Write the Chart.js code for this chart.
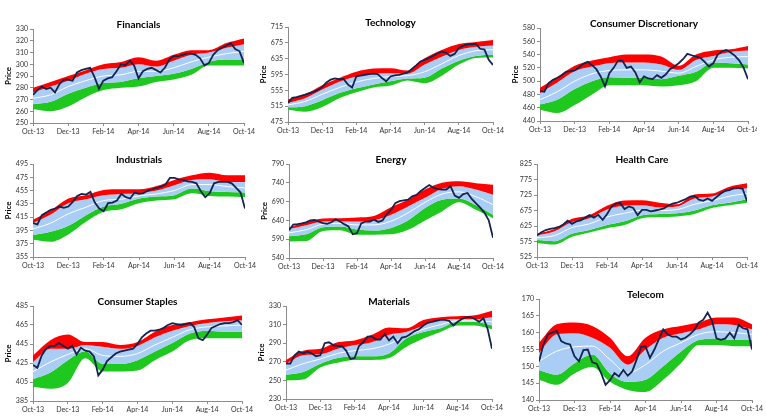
<!DOCTYPE html>
<html>
<head>
<meta charset="utf-8">
<script src="https://cdn.jsdelivr.net/npm/chart.js@4.4.1/dist/chart.umd.min.js"></script>
<style>
    html, body { margin: 0; padding: 0; background: #ffffff; }
    #wrap { position: relative; width: 766px; height: 420px; overflow: hidden; }
    .panel { position: absolute; }
</style>
</head>
<body>
<div id="wrap"></div>
<script>
// Axis labels and sample positions (months since Oct-13)
const xTickLabels = ['Oct-13', 'Dec-13', 'Feb-14', 'Apr-14', 'Jun-14', 'Aug-14', 'Oct-14'];
const bandMonths = [0, 1, 2, 3, 4, 5, 6, 7, 8, 9, 10, 11, 12];
const priceMonths = [0, 0.25, 0.5, 0.75, 1, 1.25, 1.5, 1.75, 2, 2.25, 2.5, 2.75, 3, 3.25, 3.5, 3.75,
    4, 4.25, 4.5, 4.75, 5, 5.25, 5.5, 5.75, 6, 6.25, 6.5, 6.75, 7, 7.25, 7.5, 7.75,
    8, 8.25, 8.5, 8.75, 9, 9.25, 9.5, 9.75, 10, 10.25, 10.5, 10.75, 11, 11.25, 11.5, 11.75, 12];

// Financials
const finPrice = [274, 278, 281, 279, 280, 276, 283, 287, 287, 286, 293, 295, 296, 297, 289, 279,
    286, 288, 289, 294, 300, 299, 303, 299, 288, 294, 296, 297, 295, 293, 297, 304,
    307, 307, 308, 309, 309, 308, 305, 299, 301, 308, 312, 314, 316, 318, 313, 311, 301];
const finRedTop = [280, 285, 290, 295, 300, 302, 306, 303, 308, 312, 312, 318, 322];
const finBlueTop = [276, 281, 286, 292, 296, 297, 300, 298, 303, 308, 310, 314, 317];
const finGreenTop = [266, 268, 275, 280, 284, 285, 288, 290, 292, 296, 302, 304, 304];
const finGreenBottom = [262, 260, 264, 272, 278, 280, 281, 285, 287, 291, 299, 299, 299];
const finMid = [271, 274, 281, 286, 290, 291, 294, 294, 297, 302, 306, 309, 311];

// Technology
const techPrice = [523, 536, 538, 541, 544, 548, 551, 556, 563, 575, 582, 585, 583, 584, 570, 562,
    590, 592, 594, 596, 597, 596, 586, 578, 590, 593, 594, 597, 600, 609, 618, 628,
    632, 637, 642, 648, 653, 650, 642, 647, 662, 668, 671, 672, 672, 660, 658, 632, 619];
const techRedTop = [532, 545, 568, 586, 602, 610, 611, 605, 636, 657, 672, 677, 682];
const techBlueTop = [523, 535, 557, 577, 590, 597, 598, 597, 620, 640, 657, 665, 668];
const techGreenTop = [512, 515, 530, 548, 560, 570, 578, 585, 587, 610, 630, 642, 645];
const techGreenBottom = [506, 501, 513, 535, 550, 562, 567, 580, 573, 592, 620, 637, 638];
const techMid = [518, 527, 545, 562, 576, 585, 590, 592, 602, 622, 643, 655, 658];

// Consumer Discretionary
const cdPrice = [485, 484, 497, 502, 505, 509, 514, 515, 516, 521, 526, 529, 524, 518, 507, 492,
    512, 520, 531, 531, 520, 522, 513, 498, 507, 504, 503, 509, 505, 510, 518, 522,
    527, 533, 541, 539, 537, 535, 529, 522, 527, 540, 545, 547, 543, 538, 531, 520, 503];
const cdRedTop = [490, 506, 523, 531, 536, 540, 540, 537, 523, 540, 546, 548, 553];
const cdBlueTop = [482, 498, 515, 522, 527, 528, 528, 525, 517, 532, 538, 544, 546];
const cdGreenTop = [465, 472, 488, 500, 506, 505, 505, 503, 508, 514, 528, 527, 525];
const cdGreenBottom = [457, 452, 464, 480, 494, 494, 494, 492, 494, 500, 520, 520, 519];
const cdMid = [472, 484, 500, 511, 516, 517, 517, 515, 512, 522, 532, 536, 537];

// Industrials
const indPrice = [406, 404, 418, 422, 426, 428, 431, 429, 431, 438, 447, 450, 449, 453, 437, 428,
    424, 436, 437, 440, 450, 445, 443, 452, 450, 451, 455, 457, 459, 461, 464, 474,
    474, 472, 471, 469, 468, 466, 454, 445, 451, 466, 468, 468, 468, 466, 459, 452, 428];
const indRedTop = [411, 425, 443, 448, 456, 457, 457, 462, 471, 478, 482, 478, 478];
const indBlueTop = [406, 419, 436, 442, 448, 450, 451, 455, 463, 471, 472, 468, 468];
const indGreenTop = [388, 393, 402, 418, 431, 435, 443, 446, 448, 458, 454, 453, 452];
const indGreenBottom = [381, 378, 389, 408, 423, 427, 436, 440, 442, 451, 447, 446, 445];
const indMid = [397, 406, 420, 430, 440, 442, 447, 450, 455, 464, 464, 461, 459];

// Energy
const enPrice = [614, 629, 630, 632, 635, 640, 641, 637, 633, 631, 635, 643, 637, 630, 624, 603,
    606, 632, 637, 637, 642, 636, 640, 657, 668, 686, 691, 693, 695, 704, 708, 718,
    726, 734, 727, 723, 722, 722, 731, 706, 700, 710, 713, 697, 685, 674, 660, 640, 594];
const enRedTop = [621, 635, 645, 646, 648, 652, 675, 695, 722, 740, 744, 739, 735];
const enBlueTop = [617, 627, 637, 638, 637, 640, 655, 677, 700, 724, 731, 722, 708];
const enGreenTop = [598, 603, 622, 624, 616, 613, 620, 640, 673, 695, 698, 680, 655];
const enGreenBottom = [584, 585, 612, 614, 602, 602, 603, 615, 640, 664, 688, 668, 646];
const enMid = [607, 615, 630, 632, 628, 628, 638, 660, 688, 710, 716, 703, 682];

// Health Care
const hcPrice = [595, 605, 612, 616, 618, 622, 630, 642, 632, 640, 643, 652, 660, 652, 661, 645,
    663, 687, 697, 699, 680, 688, 683, 660, 677, 677, 672, 675, 678, 682, 691, 697,
    700, 706, 712, 720, 722, 710, 706, 714, 706, 718, 730, 738, 741, 748, 748, 745, 706];
const hcRedTop = [600, 615, 648, 660, 690, 707, 708, 700, 695, 727, 730, 752, 763];
const hcBlueTop = [594, 608, 638, 650, 678, 690, 692, 685, 688, 714, 720, 740, 747];
const hcGreenTop = [580, 576, 600, 612, 628, 640, 660, 664, 666, 675, 692, 700, 711];
const hcGreenBottom = [570, 565, 590, 604, 618, 628, 650, 654, 656, 664, 683, 692, 700];
const hcMid = [587, 594, 620, 632, 654, 666, 676, 675, 678, 695, 707, 721, 730];

// Consumer Staples
const csPrice = [423, 420, 433, 440, 443, 443, 446, 443, 440, 443, 434, 441, 438, 437, 432, 412,
    418, 427, 431, 435, 437, 438, 439, 440, 445, 452, 456, 459, 459, 460, 462, 465,
    467, 466, 465, 466, 467, 463, 451, 449, 455, 462, 464, 466, 467, 467, 468, 470, 465];
const csRedTop = [433, 449, 455, 447, 447, 444, 447, 458, 465, 468, 471, 473, 475];
const csBlueTop = [426, 440, 440, 444, 442, 440, 443, 452, 459, 464, 467, 469, 470];
const csGreenTop = [408, 415, 428, 437, 424, 424, 428, 437, 446, 456, 459, 458, 458];
const csGreenBottom = [400, 398, 404, 430, 416, 416, 417, 428, 437, 449, 451, 451, 451];
const csMid = [416, 426, 434, 440, 433, 432, 435, 444, 452, 460, 463, 464, 465];

// Materials
const matPrice = [268, 268, 277, 281, 279, 281, 279, 276, 277, 290, 291, 288, 287, 287, 282, 273,
    274, 287, 291, 297, 297, 294, 294, 300, 293, 297, 290, 296, 297, 300, 303, 305,
    309, 312, 313, 314, 315, 315, 314, 309, 313, 316, 318, 318, 316, 313, 317, 305, 284];
const matRedTop = [272, 282, 284, 291, 293, 299, 307, 306, 315, 318, 319, 320, 325];
const matBlueTop = [268, 277, 278, 284, 288, 291, 299, 302, 309, 315, 316, 316, 318];
const matGreenTop = [256, 259, 268, 274, 276, 276, 279, 295, 302, 306, 313, 313, 309];
const matGreenBottom = [250, 251, 264, 269, 272, 272, 274, 286, 295, 302, 309, 309, 305];
const matMid = [261, 268, 273, 279, 282, 284, 289, 298, 305, 310, 314, 314, 313];

// Telecom
const telPrice = [151.4, 156.5, 159.5, 160.0, 160.5, 157.5, 156.8, 156.5, 153.0, 151.5, 154.8, 155.0, 151.2, 150.8, 148.0, 144.5,
    145.9, 148.0, 147.0, 148.9, 147.2, 148.5, 152.0, 155.8, 155.9, 152.5, 155.0, 158.0, 161.0, 159.5, 158.8, 158.8,
    158.0, 158.5, 159.5, 160.8, 163.0, 163.8, 166.0, 163.5, 158.3, 157.9, 158.3, 160.0, 158.3, 162.3, 161.3, 161.0, 155.0];
const telRedTop = [157.0, 162.5, 163.0, 162.0, 158.5, 153.0, 158.5, 161.0, 162.0, 163.0, 164.5, 164.5, 162.5];
const telBlueTop = [154.0, 159.5, 159.8, 158.5, 155.5, 150.5, 155.0, 158.5, 159.8, 161.0, 162.5, 162.3, 161.0];
const telGreenTop = [148.8, 147.5, 150.9, 153.5, 147.9, 145.4, 146.0, 150.0, 154.4, 157.8, 158.3, 157.8, 157.8];
const telGreenBottom = [146.0, 144.5, 147.9, 149.8, 145.4, 143.0, 142.4, 146.0, 150.9, 156.3, 156.3, 156.0, 156.0];
const telMid = [151.5, 154.5, 155.8, 156.0, 152.0, 148.0, 150.5, 154.5, 157.0, 159.5, 160.3, 160.0, 159.5];

// Panel setup: area = [plot left, plot right, plot top, plot bottom] in page pixels
const panels = [
    { title: 'Financials', price: finPrice, redTop: finRedTop, blueTop: finBlueTop, greenTop: finGreenTop, greenBottom: finGreenBottom, mid: finMid, yMin: 250, yMax: 330, yStep: 10, yLabel: true, area: [33, 244, 29, 123] },
    { title: 'Technology', price: techPrice, redTop: techRedTop, blueTop: techBlueTop, greenTop: techGreenTop, greenBottom: techGreenBottom, mid: techMid, yMin: 475, yMax: 715, yStep: 40, yLabel: true, area: [288, 493, 27, 122] },
    { title: 'Consumer Discretionary', price: cdPrice, redTop: cdRedTop, blueTop: cdBlueTop, greenTop: cdGreenTop, greenBottom: cdGreenBottom, mid: cdMid, yMin: 440, yMax: 580, yStep: 20, yLabel: true, area: [540, 748, 28, 121], edge: 757 },
    { title: 'Industrials', price: indPrice, redTop: indRedTop, blueTop: indBlueTop, greenTop: indGreenTop, greenBottom: indGreenBottom, mid: indMid, yMin: 355, yMax: 495, yStep: 20, yLabel: true, area: [33, 245, 164, 257] },
    { title: 'Energy', price: enPrice, redTop: enRedTop, blueTop: enBlueTop, greenTop: enGreenTop, greenBottom: enGreenBottom, mid: enMid, yMin: 540, yMax: 790, yStep: 50, yLabel: true, area: [289, 493, 164, 258] },
    { title: 'Health Care', price: hcPrice, redTop: hcRedTop, blueTop: hcBlueTop, greenTop: hcGreenTop, greenBottom: hcGreenBottom, mid: hcMid, yMin: 525, yMax: 825, yStep: 50, yLabel: false, area: [537, 747, 164, 257] },
    { title: 'Consumer Staples', price: csPrice, redTop: csRedTop, blueTop: csBlueTop, greenTop: csGreenTop, greenBottom: csGreenBottom, mid: csMid, yMin: 385, yMax: 485, yStep: 20, yLabel: true, area: [33, 242, 306, 401] },
    { title: 'Materials', price: matPrice, redTop: matRedTop, blueTop: matBlueTop, greenTop: matGreenTop, greenBottom: matGreenBottom, mid: matMid, yMin: 230, yMax: 330, yStep: 20, yLabel: true, area: [286, 492, 306, 399] },
    { title: 'Telecom', price: telPrice, redTop: telRedTop, blueTop: telBlueTop, greenTop: telGreenTop, greenBottom: telGreenBottom, mid: telMid, yMin: 140, yMax: 170, yStep: 5, yLabel: false, area: [539, 752, 299, 400] }
];

Chart.defaults.font.family = 'Lato';
Chart.defaults.color = '#333333';

const wrap = document.getElementById('wrap');

function toPoints(xs, ys) {
    return ys.map((y, i) => ({ x: xs[i], y: y }));
}

function bandSet(label, values, color, fill) {
    return {
        label: label,
        data: toPoints(bandMonths, values),
        borderWidth: 0,
        borderColor: 'rgba(0,0,0,0)',
        backgroundColor: color,
        fill: fill,
        pointRadius: 0,
        cubicInterpolationMode: 'monotone'
    };
}

panels.forEach(p => {
    const [L, R, T, B] = p.area;
    const left = L - 33;
    const top = T - 9;
    const width = (p.edge || R + 14) - left;
    const height = B + 18 - top;

    const canvas = document.createElement('canvas');
    canvas.className = 'panel';
    canvas.width = width;
    canvas.height = height;
    canvas.style.left = left + 'px';
    canvas.style.top = top + 'px';
    wrap.appendChild(canvas);

    new Chart(canvas.getContext('2d'), {
        type: 'line',
        data: {
            datasets: [
                {
                    label: 'Price',
                    data: toPoints(priceMonths, p.price),
                    borderColor: '#14234f',
                    borderWidth: 1.8,
                    pointRadius: 0,
                    fill: false,
                    tension: 0
                },
                {
                    label: 'Average',
                    data: toPoints(bandMonths, p.mid),
                    borderColor: '#ffffff',
                    borderWidth: 1,
                    pointRadius: 0,
                    fill: false,
                    cubicInterpolationMode: 'monotone'
                },
                bandSet('Upper band', p.redTop, '#ff0000', '+1'),
                bandSet('Upper inner', p.blueTop, '#a9cdf4', '+1'),
                bandSet('Lower inner', p.greenTop, '#1ec81e', '+1'),
                bandSet('Lower band', p.greenBottom, 'rgba(0,0,0,0)', false)
            ]
        },
        options: {
            responsive: false,
            animation: false,
            events: [],
            layout: {
                padding: { left: 0, right: width - (R - left), top: 0, bottom: 0 }
            },
            plugins: {
                legend: { display: false },
                tooltip: { enabled: false },
                title: {
                    display: true,
                    text: p.title,
                    fullSize: false,
                    color: '#000000',
                    font: { size: 10, weight: 'bold', lineHeight: 1 },
                    padding: { top: 0, bottom: -1 }
                }
            },
            scales: {
                x: {
                    type: 'linear',
                    min: 0,
                    max: 12,
                    ticks: {
                        stepSize: 2,
                        autoSkip: false,
                        maxRotation: 0,
                        padding: 2,
                        font: { size: 7 },
                        callback: v => xTickLabels[v / 2]
                    },
                    grid: { display: true, drawOnChartArea: false, drawTicks: true, tickLength: 3, color: '#8c8c8c' },
                    border: { color: '#8c8c8c' },
                    afterFit: s => { s.height = 18; s.paddingLeft = 0; s.paddingRight = 0; }
                },
                y: {
                    min: p.yMin,
                    max: p.yMax,
                    ticks: {
                        stepSize: p.yStep,
                        padding: 2,
                        font: { size: 7 }
                    },
                    title: {
                        display: p.yLabel,
                        text: 'Price',
                        color: '#000000',
                        font: { size: 8, weight: 'bold' },
                        padding: { top: 4, bottom: 0 }
                    },
                    grid: { display: true, drawOnChartArea: false, drawTicks: true, tickLength: 3, color: '#8c8c8c' },
                    border: { color: '#8c8c8c' },
                    afterFit: s => { s.width = 33; s.paddingTop = 0; s.paddingBottom = 0; }
                }
            }
        }
    });
});
</script>
</body>
</html>
